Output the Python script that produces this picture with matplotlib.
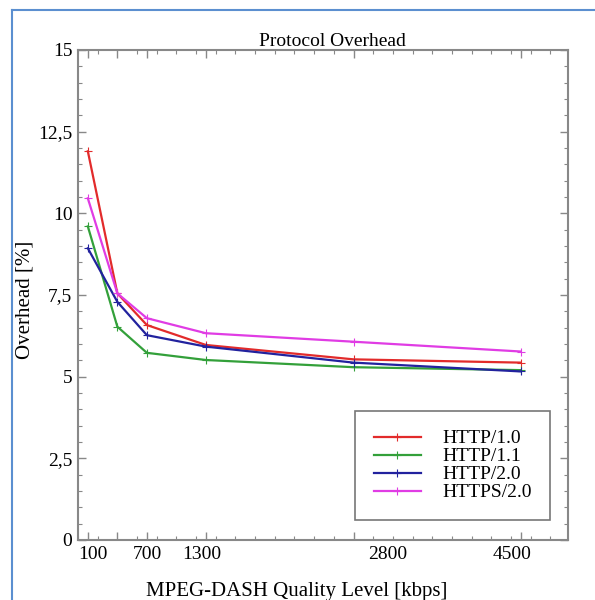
import numpy as np
import matplotlib
matplotlib.use('Agg')
import matplotlib.pyplot as plt
from matplotlib.ticker import MultipleLocator, FixedLocator, FuncFormatter
from matplotlib.transforms import ScaledTranslation
from matplotlib.lines import Line2D

# quality levels (kbps) and overhead [%] per protocol
levels = [100, 400, 700, 1300, 2800, 4500]
http10 = [11.9, 7.55, 6.58, 5.97, 5.53, 5.43]
http11 = [9.6, 6.53, 5.73, 5.51, 5.29, 5.2]
http20 = [8.93, 7.29, 6.27, 5.92, 5.43, 5.16]
https20 = [10.46, 7.55, 6.79, 6.33, 6.07, 5.77]

series_names = ['HTTP/1.0', 'HTTP/1.1', 'HTTP/2.0', 'HTTPS/2.0']
xtick_vals = [100, 700, 1300, 2800, 4500]
xtick_labels = ['100', '700', '1300', '2800', '4500']
xtick_shift = [5, 0, -4, 34, -9]  # label offsets in px, as in the original

colors = ['#e22b2b', '#33a03a', '#22229e', '#e03ce4']

plt.rcParams['font.family'] = ['Liberation Serif', 'DejaVu Serif']

fig = plt.figure(figsize=(5.95, 6.0), dpi=100)
ax = fig.add_axes([78 / 595, 60 / 600, 490 / 595, 490 / 600])

for vals, name, c in zip([http10, http11, http20, https20], series_names, colors):
    ax.plot(levels, vals, color=c, lw=1.6, marker='+', ms=6, mew=0.8, label=name)

ax.set_xlim(0, 4980)
ax.set_ylim(0, 15)

ax.xaxis.set_major_locator(FixedLocator(levels))
ax.xaxis.set_minor_locator(MultipleLocator(200))
ax.xaxis.set_major_formatter(FuncFormatter(
    lambda v, p: xtick_labels[xtick_vals.index(int(round(v)))] if int(round(v)) in xtick_vals else ''))

ax.yaxis.set_major_locator(MultipleLocator(2.5))
ax.yaxis.set_minor_locator(MultipleLocator(0.5))
ax.yaxis.set_major_formatter(FuncFormatter(lambda v, p: ('%g' % v).replace('.', ',')))

ax.tick_params(which='both', direction='in', top=True, right=True, color='#888888')
ax.tick_params(which='major', length=6, width=1, labelsize=14, pad=4)
ax.tick_params(which='minor', length=3, width=0.8)
for s in ax.spines.values():
    s.set_color('#888888')
    s.set_linewidth(1.5)

fig.canvas.draw()
for lab in ax.get_xticklabels():
    txt = lab.get_text()
    if txt in xtick_labels:
        dx = xtick_shift[xtick_labels.index(txt)]
        lab.set_transform(lab.get_transform() + ScaledTranslation(dx / 100, 0, fig.dpi_scale_trans))

ax.set_title('Protocol Overhead', fontsize=14, pad=2, x=0.52)
ax.set_xlabel('MPEG-DASH Quality Level [kbps]', fontsize=15)
ax.xaxis.set_label_coords(0.447, -0.085)
ax.set_ylabel('Overhead [%]', fontsize=15)
ax.yaxis.set_label_coords(-0.088, 0.49)

handles = [Line2D([0], [0], color=c, lw=1.6, marker='+', ms=6, mew=0.8) for c in colors]
leg = ax.legend(handles, series_names, loc='lower right', bbox_to_anchor=(0.963, 0.041),
                fontsize=14, frameon=True, fancybox=False, edgecolor='#555555',
                handlelength=2.4, labelspacing=0.02, borderpad=0.95, handletextpad=1.1,
                borderaxespad=0)
leg.get_frame().set_linewidth(1.2)

# light blue page border on top and left
fig.add_artist(Line2D([12 / 595, 1.0], [1 - 10 / 600, 1 - 10 / 600], color='#5b8fd0', lw=1.5))
fig.add_artist(Line2D([12 / 595, 12 / 595], [0, 1 - 10 / 600], color='#5b8fd0', lw=1.5))

fig.savefig('out.png', dpi=100)
